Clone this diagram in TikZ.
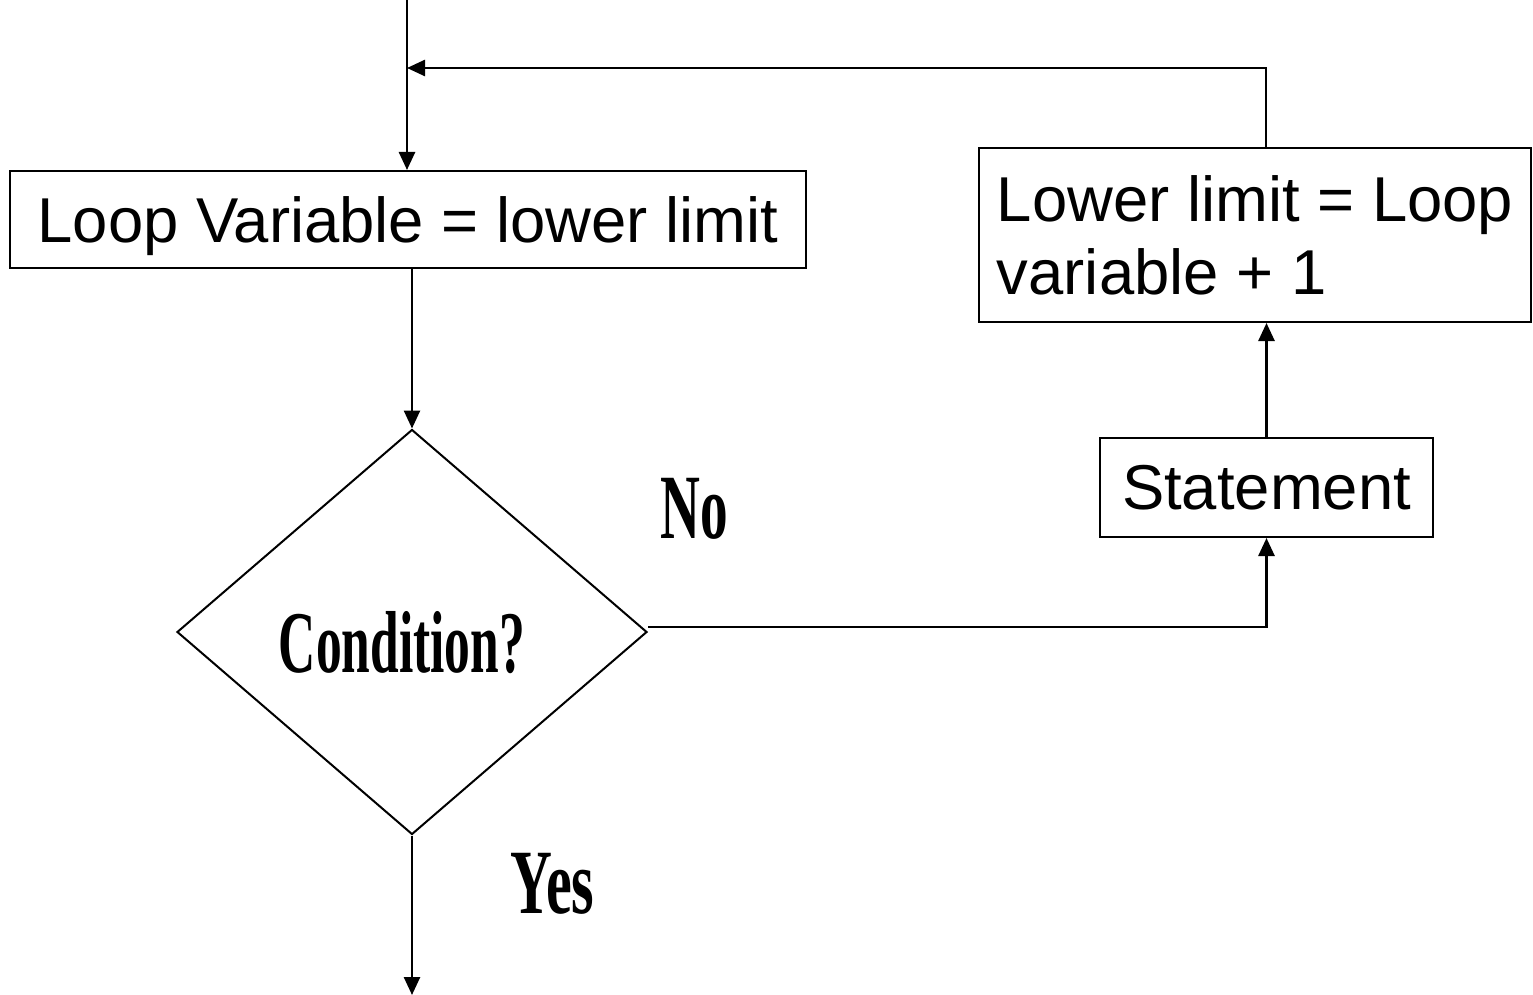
\documentclass[tikz,border=0pt]{standalone}
\usepackage{graphicx}
\usepackage{fontspec}
\setmainfont{Liberation Serif}
\setsansfont{Liberation Sans}
\usetikzlibrary{arrows.meta,shapes.geometric}
\begin{document}
\begin{tikzpicture}[x=0.5pt,y=-0.5pt,
  box/.style={draw,line width=1pt,inner sep=0pt,font=\sffamily\fontsize{31.7}{36.5}\selectfont},
  conn/.style={line width=1.3pt,-{Triangle[length=9pt,width=8pt]}},
  lab/.style={font=\bfseries\fontsize{46}{50}\selectfont,inner sep=0pt,anchor=base}]
\useasboundingbox (0,0) rectangle (1533,995);

\node[box,minimum width=398pt,minimum height=48.5pt,text depth=0pt] (b1) at (408,219.5) {Loop Variable = lower limit};
\node[box,align=left,minimum width=276pt,minimum height=87pt] (b2) at (1255,235) {Lower limit = Loop\\variable + 1};
\node[box,minimum width=166.5pt,minimum height=49.5pt] (st) at (1266.5,487.5) {Statement};
\node[draw,diamond,line width=1pt,minimum width=235pt,minimum height=202.5pt,inner sep=0pt,aspect=1.16] (d) at (412,632) {};

\node[lab,font=\bfseries\fontsize{44}{48}\selectfont] (cond) at (402,672) {\scalebox{0.585}[1]{Condition?}};
\node[lab] (no) at (694.5,538) {\scalebox{0.60}[1]{No}};
\node[lab] (yes) at (552.5,913) {\scalebox{0.63}[1]{Yes}};

\coordinate (top) at (407,0);
\coordinate (fb) at (1266,68);
\coordinate (out) at (411,995);

\draw[conn] (top) -- (top |- b1.north);
\draw[conn] (b2.north -| fb) -- (fb) -- (fb -| top);
\draw[conn] (b1.south -| d.north) -- (d.north);
\draw[conn] (d.south) -- (d.south |- out);
\draw[conn] ([yshift=2.5pt]d.east) -| (st.south);
\draw[conn] (st.north) -- (b2.south -| st.north);
\end{tikzpicture}
\end{document}
